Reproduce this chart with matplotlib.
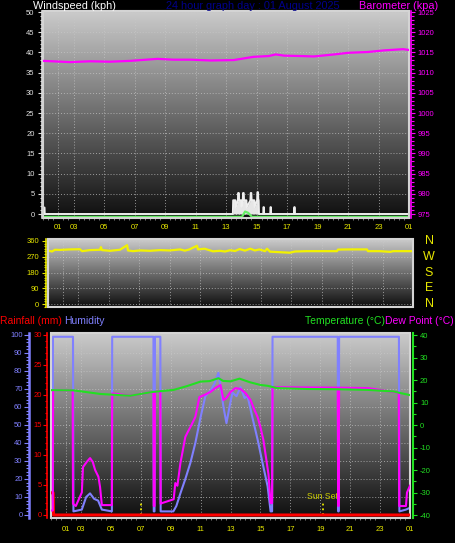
import numpy as np
import matplotlib.pyplot as plt
from matplotlib.colors import LinearSegmentedColormap
from matplotlib.patches import Rectangle
from matplotlib.ticker import MultipleLocator, FixedLocator
from matplotlib.transforms import blended_transform_factory

plt.rcParams['font.family'] = ['Liberation Sans', 'DejaVu Sans']
plt.rcParams['axes.unicode_minus'] = False

W, H, DPI = 455, 543, 100

# --- x axis (hours of the day, 1 = 01:00, 25 = 01:00 next day)
hour_ticks = [2, 3, 5, 7, 9, 11, 13, 15, 17, 19, 21, 23, 25]
hour_labels = ['01', '03', '05', '07', '09', '11', '13', '15', '17', '19', '21', '23', '01']

# --- windspeed (kph)
wind_hours = [1.00, 1.05, 1.06, 1.10, 1.11,
              13.45, 13.47, 13.62, 13.64, 13.78, 13.80, 13.84, 13.86, 14.00, 14.02,
              14.10, 14.12, 14.16, 14.18, 14.34, 14.36, 14.60, 14.62, 14.66, 14.68,
              14.86, 14.88, 15.04, 15.06, 15.10, 15.12, 15.14, 15.16,
              15.44, 15.46, 15.48, 15.50,
              15.90, 15.92, 15.94, 15.96,
              17.46, 17.48, 17.50, 17.52, 25.00]
wind_kph = [0, 0, 1.6, 1.6, 0,
            0, 3.4, 3.4, 1.6, 3.4, 5.2, 5.2, 3.4, 3.4, 1.8,
            3.4, 5.2, 5.2, 3.4, 3.4, 1.6, 3.4, 5.2, 5.2, 3.4,
            3.4, 1.7, 3.4, 5.4, 5.4, 3.4, 3.4, 0,
            0, 1.7, 1.7, 0,
            0, 1.7, 1.7, 0,
            0, 1.7, 1.7, 0, 0]
gust_hours = [1.0, 14.05, 14.25, 14.45, 14.7, 25.0]
gust_kph = [-0.7, -0.7, 0.6, 0.3, -0.7, -0.7]

# --- barometer
baro_hours = [1.0, 2.78, 4.1, 5.4, 6.7, 8.5, 9.55, 10.67, 12.0, 13.5, 14.8, 15.8,
              16.26, 16.8, 17.9, 18.76, 20.1, 21.0, 22.3, 23.37, 24.62, 25.0]
baro_hpa = [1012.9, 1012.6, 1012.8, 1012.7, 1012.9, 1013.4, 1013.2, 1013.2, 1013.0, 1013.1,
            1013.9, 1014.1, 1014.5, 1014.2, 1014.1, 1014.0, 1014.5, 1014.9, 1015.1, 1015.5,
            1015.8, 1015.6]

# --- wind direction (deg)
dir_hours = [1.0, 1.26, 1.46, 1.79, 2.45, 3.1, 3.24, 3.76, 4.42, 4.48, 4.55, 5.08, 5.73,
             6.2, 6.26, 6.59, 7.05, 7.7, 8.36, 9.0, 9.68, 10.0, 10.3, 10.8, 10.86, 11.3,
             11.85, 12.3, 12.64, 12.97, 13.3, 13.6, 13.95, 14.3, 14.6, 14.9, 15.27, 15.4,
             15.6, 16.25, 16.9, 17.24, 18.0, 18.9, 20.0, 20.07, 20.86, 21.97, 22.04, 22.8,
             23.5, 23.7, 25.0]
dir_deg = [306, 300, 310, 309, 312, 313, 302, 308, 310, 325, 308, 304, 310,
           336, 306, 302, 306, 304, 308, 306, 312, 305, 312, 333, 312, 316,
           301, 304, 300, 307, 303, 314, 305, 316, 306, 312, 302, 316,
           299, 296, 293, 300, 302, 302, 302, 311, 312, 312, 302, 302,
           298, 302, 302]
compass = ['N', 'W', 'S', 'E', 'N']
compass_deg = [360, 270, 180, 90, 0]

# --- humidity (%)
hum_hours = [1.0, 1.11, 1.13, 2.47, 2.5, 3.06, 3.35, 3.61, 3.88, 4.15, 4.40, 5.07, 5.09,
             7.85, 7.87, 7.92, 7.95, 8.31, 8.33, 9.18, 9.38, 9.65, 9.98, 10.32, 10.65,
             10.99, 11.32, 11.66, 11.93, 12.19, 12.39, 12.53, 12.73, 12.93, 13.13, 13.4,
             13.67, 13.94, 14.14, 14.47, 14.81, 15.14, 15.48, 15.68, 15.78, 15.81, 20.17,
             20.2, 20.23, 20.26, 24.26, 24.29, 24.73, 25.0]
hum_pct = [2, 2, 99, 99, 2, 3, 10, 12, 9, 8, 3, 2, 99,
           99, 2, 2, 99, 99, 2, 2, 5, 12, 20, 29, 40,
           54, 66, 69, 73, 79, 68, 60, 51, 60, 68, 66,
           71, 65, 66, 54, 42, 29, 16, 2, 2, 99, 99,
           2, 2, 99, 99, 2, 3, 4]

# --- temperature (C)
temp_hours = [1.0, 2.5, 4.3, 6.3, 7.8, 8.6, 9.2, 10.1, 11.0, 11.6, 12.2, 12.5, 13.0,
              13.6, 14.3, 15.0, 15.5, 16.1, 18.2, 20.0, 22.2, 23.9, 24.5, 25.0]
temp_c = [15.5, 15.4, 13.8, 13.0, 14.7, 15.2, 15.6, 17.3, 19.3, 19.5, 20.8, 19.6, 19.4,
          20.6, 19.0, 17.8, 17.4, 16.4, 16.0, 15.9, 15.6, 14.9, 14.0, 13.3]

# --- dew point (C)
dew_hours = [1.0, 1.12, 1.14, 2.45, 2.47, 2.66, 3.06, 3.14, 3.39, 3.61, 3.79, 3.95, 4.17,
             4.28, 4.40, 5.07, 5.09, 6.3, 7.85, 7.87, 7.92, 7.95, 8.31, 8.33, 8.42, 9.2,
             9.31, 9.45, 9.65, 9.98, 10.15, 10.32, 10.65, 10.92, 11.3, 11.66, 11.99, 12.33,
             12.53, 12.73, 13.0, 13.33, 13.67, 14.0, 14.34, 14.6, 14.81, 15.0, 15.2, 15.4,
             15.54, 15.68, 15.78, 15.81, 18.2, 20.17, 20.2, 20.23, 20.26, 22.2, 24.25,
             24.28, 24.73, 24.8, 25.0]
dew_c = [-38, -38, 15.5, 15.4, -35, -36, -30, -18.7, -16.4, -14.7, -16.4, -20, -23,
         -27.6, -35.6, -35.6, 14.1, 13.0, 14.7, -36, -36, 14.8, 15.0, -35, -34.7, -33,
         -25.8, -27, -17, -5.3, -3, -0.9, 3.6, 12.4, 13.5, 14.7, 16.4, 17.8,
         11.1, 12.0, 14.7, 16.4, 16.0, 14.2, 11.1, 6.7, 3.6, -0.9, -6.7, -15.6,
         -22, -34.7, -34.7, 16.8, 16.7, 16.6, -36, -36, 16.6, 16.4, 14.3,
         -36, -36, -30, -27]

# --- rainfall (mm)
rain_hours = [1.0, 1.15, 1.17, 25.0]
rain_mm = [3.7, 3.7, 0, 0]

sun_hours = [7.03, 19.16]

YELLOW = '#e8e800'
BLUE = '#8080ff'
GREEN = '#22e022'
MAGENTA = '#ff00ff'
RED = '#ff0000'


def rect(l, t, r, b):
    return [l / W, 1 - b / H, (r - l) / W, (b - t) / H]


def pt(px):
    return px * 72 / DPI


grey = LinearSegmentedColormap.from_list('panel', ['#0e0e0e', '#cbcbcb'])


def panel(box):
    ax = fig.add_axes(rect(*box))
    ax.set_facecolor('black')
    grad = np.linspace(1, 0, 256).reshape(-1, 1)
    ax.imshow(grad, extent=[0, 1, 0, 1], transform=ax.transAxes, aspect='auto',
              cmap=grey, vmin=0, vmax=1, zorder=0)
    ax.add_patch(Rectangle((0, 0), 1, 1, transform=ax.transAxes, fill=False,
                           ec='#d4d4d4', lw=1.5, zorder=6, clip_on=False))
    for s in ax.spines.values():
        s.set_visible(False)
    ax.set_xlim(1, 25)
    ax.xaxis.set_major_locator(FixedLocator(hour_ticks))
    ax.grid(True, color='#c8c8c8', lw=0.7, ls=(0, (1, 2)), alpha=0.7)
    return ax


def y_axis(ax, side, color, lim, major, minor, out_px, pad_px, maj_len=4, min_len=2.5, lw=1.2):
    ax.set_ylim(*lim)
    ax.yaxis.set_major_locator(MultipleLocator(major))
    ax.yaxis.set_minor_locator(MultipleLocator(minor))
    ax.yaxis.set_ticks_position(side)
    ax.spines[side].set_visible(True)
    ax.spines[side].set_position(('outward', pt(out_px)))
    ax.spines[side].set_color(color)
    ax.spines[side].set_linewidth(lw)
    ax.tick_params(axis='y', which='major', colors=color, labelcolor=color, labelsize=5.5,
                   length=pt(maj_len), width=0.8, pad=pt(pad_px), direction='out')
    ax.tick_params(axis='y', which='minor', colors=color, length=pt(min_len), width=0.8,
                   direction='out')


fig = plt.figure(figsize=(W / DPI, H / DPI), dpi=DPI, facecolor='black')

# ---------------- top panel: windspeed + barometer
ax1 = panel((43, 11, 409, 218))
ax1.set_xticklabels(hour_labels)
ax1.xaxis.set_minor_locator(MultipleLocator(1 / 3))
ax1.tick_params(axis='x', which='major', length=0, pad=pt(6), labelsize=5.5, labelcolor=YELLOW)
ax1.tick_params(axis='x', which='minor', length=pt(2), color='#909090')
y_axis(ax1, 'left', '#e0e0e0', (-0.99, 50.25), 5, 1, 1.5, 3)
ax1.fill_between(wind_hours, 0, wind_kph, color='#e6e6e6', lw=0, zorder=3)
ax1.plot(wind_hours, wind_kph, color='#eeeeee', lw=1.4, zorder=4)
ax1.plot(gust_hours, gust_kph, color='#66ee66', lw=1.6, zorder=4)

ax1b = ax1.twinx()
for s in ax1b.spines.values():
    s.set_visible(False)
y_axis(ax1b, 'right', MAGENTA, (975 - 0.99, 1025.25), 5, 1, 1.5, 3)
ax1b.plot(baro_hours, baro_hpa, color=MAGENTA, lw=1.6)

fig.text(33 / W, 1 - 6 / H, 'Windspeed (kph)', color='white', fontsize=7.8, va='center', ha='left')
fig.text(253 / W, 1 - 6 / H, '24 hour graph day : 01 August 2025', color='#00008b',
         fontsize=7.8, va='center', ha='center')
fig.text(438 / W, 1 - 6 / H, 'Barometer (kpa)', color=MAGENTA, fontsize=7.8, va='center', ha='right')

# ---------------- middle panel: wind direction
ax2 = panel((48, 239, 413, 307))
ax2.tick_params(axis='x', which='both', length=0, labelbottom=False)
y_axis(ax2, 'left', YELLOW, (-17.1, 371.4), 90, 15, 2, 3)
ax2.plot(dir_hours, dir_deg, color='#f2f200', lw=1.6, zorder=4)
tr = blended_transform_factory(ax2.transAxes, ax2.transData)
for lab, d in zip(compass, compass_deg):
    ax2.text(1.044, d, lab, transform=tr, color=YELLOW, fontsize=9, ha='center', va='center',
             clip_on=False)

# ---------------- bottom panel: humidity / rain / temperature / dew point
ax3 = panel((51, 333, 410, 518))
ax3.set_xticklabels(hour_labels)
ax3.xaxis.set_minor_locator(MultipleLocator(1 / 3))
ax3.tick_params(axis='x', which='major', length=0, pad=pt(8), labelsize=5.5, labelcolor=YELLOW)
ax3.tick_params(axis='x', which='minor', length=pt(2), color='#909090')
y_axis(ax3, 'left', BLUE, (-1.67, 101.1), 10, 2, 22, 1.5, maj_len=5, min_len=3, lw=1.8)
ax3.plot(hum_hours, hum_pct, color=BLUE, lw=1.5, zorder=4)
ax3.vlines(sun_hours, 0, 8, colors=YELLOW, linestyles=':', lw=1.3, zorder=4)
ax3.text(sun_hours[1], 10.5, 'Sun Set', color='#c8c800', fontsize=6.3, ha='center', va='center')

ax3r = ax3.twinx()
for s in ax3r.spines.values():
    s.set_visible(False)
y_axis(ax3r, 'left', RED, (-0.5, 30.33), 5, 1, 4, 1, maj_len=4, min_len=2)
ax3r.plot(rain_hours, rain_mm, color=RED, lw=2.2, zorder=4)

ax3t = ax3.twinx()
for s in ax3t.spines.values():
    s.set_visible(False)
y_axis(ax3t, 'right', GREEN, (-41.33, 40.89), 10, 5, 3, 3, maj_len=4, min_len=2.5, lw=1.5)
ax3t.plot(dew_hours, dew_c, color=MAGENTA, lw=1.5, zorder=4)
ax3t.plot(temp_hours, temp_c, color=GREEN, lw=1.5, zorder=5)

fig.text(0 / W, 1 - 321 / H, 'Rainfall (mm)', color=RED, fontsize=7.5, va='center', ha='left')
fig.text(64 / W, 1 - 321 / H, 'Humidity', color=BLUE, fontsize=7.5, va='center', ha='left')
fig.text(385 / W, 1 - 321 / H, 'Temperature (°C)', color=GREEN, fontsize=7.5, va='center', ha='right')
fig.text(385 / W, 1 - 321 / H, 'Dew Point (°C)', color=MAGENTA, fontsize=7.5, va='center', ha='left')

fig.savefig('out.png', dpi=DPI, facecolor='black')
